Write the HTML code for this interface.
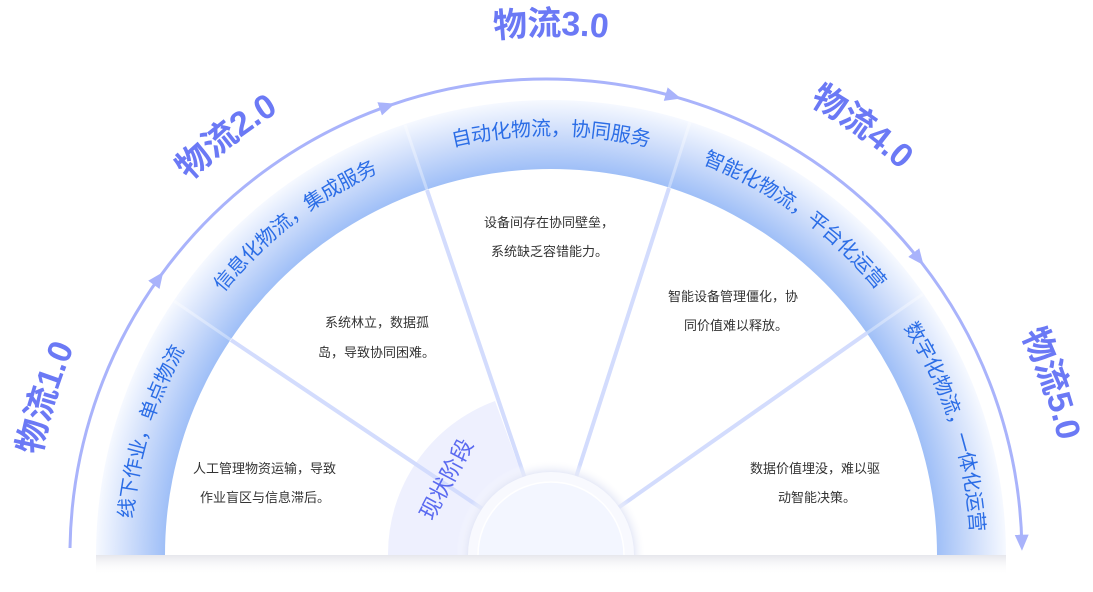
<!DOCTYPE html>
<html><head><meta charset="utf-8"><style>
html,body{margin:0;padding:0;background:#fff;width:1093px;height:592px;overflow:hidden}
svg{display:block;font-family:"Liberation Sans","Noto Sans CJK SC",sans-serif}
</style></head><body>
<svg width="1093" height="592" viewBox="0 0 1093 592" xmlns="http://www.w3.org/2000/svg">
<defs>
<radialGradient id="band" gradientUnits="userSpaceOnUse" cx="551" cy="555" r="455">
<stop offset="0.848" stop-color="#9fbff7"/>
<stop offset="0.93" stop-color="#cfdefb"/>
<stop offset="1" stop-color="#f6f9ff"/>
</radialGradient>
<radialGradient id="cs" gradientUnits="userSpaceOnUse" cx="551" cy="555" r="95">
<stop offset="0.85" stop-color="#dfe3f5"/>
<stop offset="1" stop-color="#ffffff" stop-opacity="0"/>
</radialGradient>
<linearGradient id="sh" x1="0" y1="0" x2="0" y2="1">
<stop offset="0" stop-color="#e6e7ec"/>
<stop offset="1" stop-color="#ffffff" stop-opacity="0"/>
</linearGradient>
<marker id="ar" markerUnits="userSpaceOnUse" markerWidth="18" markerHeight="16" refX="12" refY="8" orient="auto">
<path d="M0,1 L16,8 L0,15 Z" fill="#a9b3fb"/>
</marker>
<path id="p1" d="M 126 555 A 425 425 0 0 1 976 555"/>
<path id="p2" d="M 22 555 A 529 529 0 0 1 1080 555"/>
</defs>
<path d="M 96 555 A 455 455 0 0 1 1006 555 L 937 555 A 386 386 0 0 0 165 555 Z" fill="url(#band)"/>
<path d="M 551 555 L 388 555 A 163 163 0 0 1 495 401 Z" fill="#eef0fe"/>
<g stroke="#d3dcfd" stroke-width="4">
<line x1="551" y1="555" x2="231" y2="340"/>
<line x1="551" y1="555" x2="427" y2="190"/>
<line x1="551" y1="555" x2="669" y2="188"/>
<line x1="551" y1="555" x2="867" y2="333"/>
</g>
<g stroke="#ffffff" stroke-opacity="0.35" stroke-width="3">
<line x1="231" y1="340" x2="174" y2="301"/>
<line x1="427" y1="190" x2="405" y2="125"/>
<line x1="669" y1="188" x2="690" y2="122"/>
<line x1="867" y1="333" x2="923" y2="294"/>
</g>
<path d="M 456 555 A 95 95 0 0 1 646 555 Z" fill="url(#cs)"/>
<circle cx="551" cy="555" r="83" fill="#f8f9fe"/>
<circle cx="551" cy="555" r="73" fill="#f3f6ff" stroke="#ffffff" stroke-width="1.5"/>
<rect x="0" y="555" width="1093" height="37" fill="#ffffff"/>
<rect x="96" y="555" width="910" height="20" fill="url(#sh)"/>
<g fill="none" stroke="#a9b3fb" stroke-width="3">
<path d="M 70 548 A 476 476 0 0 1 160.9 275.2" marker-end="url(#ar)"/>
<path d="M 160.9 275.2 A 476 476 0 0 1 391 104.9" marker-end="url(#ar)"/>
<path d="M 391 104.9 A 476 476 0 0 1 677.2 97.4" marker-end="url(#ar)"/>
<path d="M 677.2 97.4 A 476 476 0 0 1 921.1 262" marker-end="url(#ar)"/>
<path d="M 921.1 262 A 476 476 0 0 1 1021.9 546.7" marker-end="url(#ar)"/>
</g>
<g font-size="34" font-weight="bold" fill="#6b79f5" text-anchor="middle" dominant-baseline="middle">
<text><textPath href="#p2" startOffset="9.6%">物流1.0</textPath></text>
<text><textPath href="#p2" startOffset="29%">物流2.0</textPath></text>
<text><textPath href="#p2" startOffset="50%">物流3.0</textPath></text>
<text><textPath href="#p2" startOffset="70%">物流4.0</textPath></text>
<text><textPath href="#p2" startOffset="89.5%">物流5.0</textPath></text>
</g>
<g font-size="20" fill="#2b6de6" text-anchor="middle" dominant-baseline="middle">
<text><textPath href="#p1" startOffset="9.5%">线下作业，单点物流</textPath></text>
<text><textPath href="#p1" startOffset="29%">信息化物流，集成服务</textPath></text>
<text><textPath href="#p1" startOffset="50%">自动化物流，协同服务</textPath></text>
<text><textPath href="#p1" startOffset="70%">智能化物流，平台化运营</textPath></text>
<text><textPath href="#p1" startOffset="90%">数字化物流，一体化运营</textPath></text>
</g>
<text x="448" y="480" font-size="22" fill="#5a6af0" text-anchor="middle" dominant-baseline="middle" transform="rotate(-62 448 480)">现状阶段</text>
<g font-size="13" fill="#333">
<text x="193" y="473">人工管理物资运输，导致</text>
<text x="200" y="502">作业盲区与信息滞后。</text>
<text x="325" y="327">系统林立，数据孤</text>
<text x="318" y="357">岛，导致协同困难。</text>
<text x="484" y="227">设备间存在协同壁垒，</text>
<text x="491" y="256">系统缺乏容错能力。</text>
<text x="668" y="301">智能设备管理僵化，协</text>
<text x="684" y="330">同价值难以释放。</text>
<text x="750" y="473">数据价值埋没，难以驱</text>
<text x="778" y="502">动智能决策。</text>
</g>
</svg>
</body></html>
